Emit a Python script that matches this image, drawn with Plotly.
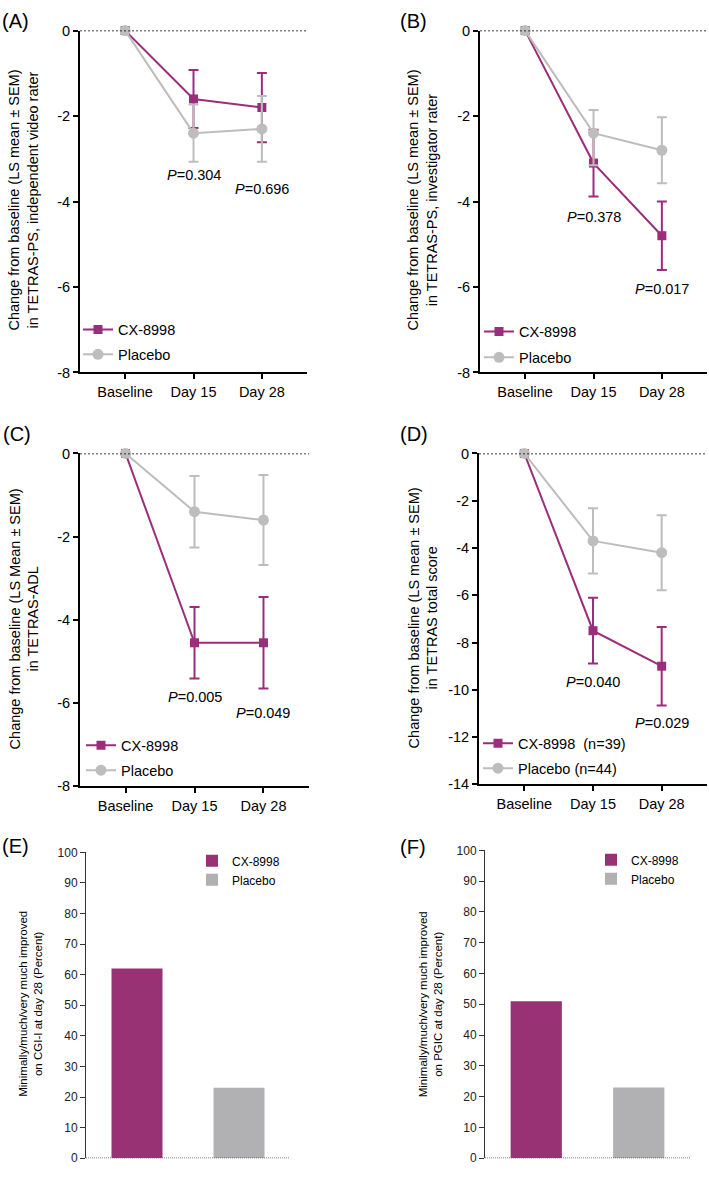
import plotly.graph_objects as go

W, H = 709, 1201

# ---------------- data ----------------
visits = ["Baseline", "Day 15", "Day 28"]

# (A) TETRAS-PS, independent video rater
A_cx = [0, -1.6, -1.8]
A_cx_err = [None, 0.68, 0.81]
A_pl = [0, -2.4, -2.3]
A_pl_err = [None, 0.67, 0.77]
A_p = ["0.304", "0.696"]
A_p_y = [-3.39, -3.70]

# (B) TETRAS-PS, investigator rater
B_cx = [0, -3.1, -4.8]
B_cx_err = [None, 0.78, 0.80]
B_pl = [0, -2.4, -2.8]
B_pl_err_plus = [None, 0.54, 0.77]
B_pl_err_minus = [None, 0.75, 0.77]
B_p = ["0.378", "0.017"]
B_p_y = [-4.36, -6.04]

# (C) TETRAS-ADL
C_cx = [0, -4.55, -4.55]
C_cx_err = [None, 0.86, 1.10]
C_pl = [0, -1.4, -1.6]
C_pl_err = [None, 0.86, 1.08]
C_p = ["0.005", "0.049"]
C_p_y = [-5.86, -6.23]

# (D) TETRAS total score
D_cx = [0, -7.5, -9.0]
D_cx_err = [None, 1.39, 1.66]
D_pl = [0, -3.7, -4.2]
D_pl_err = [None, 1.38, 1.59]
D_p = ["0.040", "0.029"]
D_p_y = [-9.68, -11.39]

# (E)/(F) responders (%)
groups = ["CX-8998", "Placebo"]
E_vals = [62, 23]
F_vals = [51, 23]

line_yticks_8 = [-8, -6, -4, -2, 0]
line_yticks_14 = [-14, -12, -10, -8, -6, -4, -2, 0]
bar_yticks = [0, 10, 20, 30, 40, 50, 60, 70, 80, 90, 100]

# ---------------- style ----------------
PURPLE = "#9B2D7D"
GRAY = "#BDBDBD"
BAR_PURPLE = "#993275"
BAR_GRAY = "#B1B1B4"
FONT = "Liberation Sans, Arial, Helvetica, sans-serif"
FS = 14.5

# page capture compensation (vertical)
OFF, K = 7.4, 0.987


def px_x(p):
    return p / W


def px_y(p):
    return 1 - ((p - OFF) / K) / H


fig = go.Figure()

panels = [
    dict(ax="", cx=A_cx, cxp=A_cx_err, cxm=A_cx_err, pl=A_pl, plp=A_pl_err, plm=A_pl_err,
         leg="legend", names=("CX-8998", "Placebo"), p=A_p, py=A_p_y),
    dict(ax="2", cx=B_cx, cxp=B_cx_err, cxm=B_cx_err, pl=B_pl, plp=B_pl_err_plus, plm=B_pl_err_minus,
         leg="legend2", names=("CX-8998", "Placebo"), p=B_p, py=B_p_y),
    dict(ax="3", cx=C_cx, cxp=C_cx_err, cxm=C_cx_err, pl=C_pl, plp=C_pl_err, plm=C_pl_err,
         leg="legend3", names=("CX-8998", "Placebo"), p=C_p, py=C_p_y),
    dict(ax="4", cx=D_cx, cxp=D_cx_err, cxm=D_cx_err, pl=D_pl, plp=D_pl_err, plm=D_pl_err,
         leg="legend4", names=("CX-8998&nbsp; (n=39)", "Placebo (n=44)"), p=D_p, py=D_p_y),
]

for pn in panels:
    xa = "x" + pn["ax"]
    ya = "y" + pn["ax"]
    fig.add_trace(go.Scatter(
        x=visits, y=pn["cx"], mode="lines+markers", name=pn["names"][0],
        xaxis=xa, yaxis=ya, legend=pn["leg"], legendgroup="cx" + pn["ax"], cliponaxis=False,
        line=dict(color=PURPLE, width=2),
        marker=dict(symbol="square", size=9, color=PURPLE),
        error_y=dict(type="data", array=pn["cxp"], arrayminus=pn["cxm"], symmetric=False,
                     color=PURPLE, thickness=2, width=5),
    ))
    fig.add_trace(go.Scatter(
        x=visits, y=pn["pl"], mode="lines+markers", name=pn["names"][1],
        xaxis=xa, yaxis=ya, legend=pn["leg"], legendgroup="pl" + pn["ax"], cliponaxis=False,
        line=dict(color=GRAY, width=2),
        marker=dict(symbol="circle", size=11, color=GRAY),
        error_y=dict(type="data", array=pn["plp"], arrayminus=pn["plm"], symmetric=False,
                     color=GRAY, thickness=2, width=5),
    ))
    for i, (pv, yv) in enumerate(zip(pn["p"], pn["py"])):
        fig.add_annotation(x=visits[i + 1], y=yv, xref=xa, yref=ya, showarrow=False,
                           text="<i>P</i>=" + pv, font=dict(size=FS, color="black", family=FONT))
    fig.add_shape(type="line", xref=xa + " domain", yref=ya, x0=0, x1=1, y0=0, y1=0,
                  line=dict(color="black", width=1.5, dash="2px,2px"), layer="above")

for ax, vals, leg in [("5", E_vals, "legend5"), ("6", F_vals, "legend6")]:
    for g, v, c in zip(groups, vals, [BAR_PURPLE, BAR_GRAY]):
        fig.add_trace(go.Bar(x=[g], y=[v], name=g, marker=dict(color=c, line=dict(width=0)),
                             xaxis="x" + ax, yaxis="y" + ax, legend=leg, legendgroup=g + ax))
    fig.add_shape(type="line", xref="x" + ax + " domain", yref="y" + ax, x0=0, x1=1, y0=0, y1=0,
                  line=dict(color="#555555", width=1.5, dash="1px,1px"), layer="above")

# ---------------- axes ----------------
line_dom = {
    "": ((80, 307), (30, 372), line_yticks_8, [-8, 0]),
    "2": ((480, 707), (30, 372), line_yticks_8, [-8, 0]),
    "3": ((80, 309), (453, 786), line_yticks_8, [-8, 0]),
    "4": ((479, 707), (453, 784), line_yticks_14, [-14, 0]),
}
layout_axes = {}
for ax, ((x0, x1), (y0, y1), ticks, rng) in line_dom.items():
    layout_axes["xaxis" + ax] = dict(
        domain=[px_x(x0), px_x(x1)], anchor="y" + ax, type="category",
        categoryorder="array", categoryarray=visits, range=[-0.66, 2.66],
        showline=True, linecolor="black", linewidth=2, ticks="outside", ticklen=5,
        tickwidth=2, tickcolor="black", showgrid=False, zeroline=False,
        tickfont=dict(size=FS, color="black", family=FONT),
    )
    layout_axes["yaxis" + ax] = dict(
        domain=[px_y(y1), px_y(y0)], anchor="x" + ax, range=rng,
        tickvals=ticks, ticktext=[str(t) for t in ticks],
        showline=True, linecolor="black", linewidth=2, ticks="outside", ticklen=5,
        tickwidth=2, tickcolor="black", showgrid=False, zeroline=False,
        tickfont=dict(size=FS, color="black", family=FONT),
    )

bar_dom = {
    "5": ((86, 290), (852, 1158)),
    "6": ((485, 690), (850, 1158)),
}
for ax, ((x0, x1), (y0, y1)) in bar_dom.items():
    layout_axes["xaxis" + ax] = dict(
        domain=[px_x(x0), px_x(x1)], anchor="y" + ax, type="category",
        categoryorder="array", categoryarray=groups, range=[-0.5, 1.5],
        showline=False, ticks="", showticklabels=False, showgrid=False, zeroline=False,
    )
    layout_axes["yaxis" + ax] = dict(
        domain=[px_y(y1), px_y(y0)], anchor="x" + ax, range=[0, 100],
        tickvals=bar_yticks, showline=True, linecolor="#333333", linewidth=1,
        ticks="outside", ticklen=5, tickwidth=1, tickcolor="#333333",
        showgrid=False, zeroline=False,
        tickfont=dict(size=12, color="#222222", family=FONT),
    )


def leg(xp, yp, size, gap):
    return dict(x=px_x(xp), y=px_y(yp), xanchor="left", yanchor="top",
                bgcolor="rgba(0,0,0,0)", borderwidth=0, itemwidth=30,
                font=dict(size=size, color="black", family=FONT), tracegroupgap=gap)


legends = dict(
    legend=leg(78, 313, FS, 3),
    legend2=leg(479, 315, FS, 4),
    legend3=leg(81, 729, FS, 3),
    legend4=leg(478, 727, FS, 3),
    legend5=leg(192, 846, 12, 0),
    legend6=leg(591, 845, 12, 0),
)

ytitles = [
    (24, 200, "Change from baseline (LS mean ± SEM)<br>in TETRAS-PS, independent video rater", FS),
    (423, 200, "Change from baseline (LS mean ± SEM)<br>in TETRAS-PS, investigator rater", FS),
    (24, 619, "Change from baseline (LS Mean ± SEM)<br>in TETRAS-ADL", FS),
    (423, 618, "Change from baseline (LS mean ± SEM)<br>in TETRAS total score", FS),
    (30.5, 1004, "Minimally/much/very much improved<br>on CGI-I at day 28 (Percent)", 11.5),
    (430, 1004, "Minimally/much/very much improved<br>on PGIC at day 28 (Percent)", 11.5),
]
for xp, yp, t, s in ytitles:
    fig.add_annotation(x=px_x(xp), y=px_y(yp), xref="paper", yref="paper", text=t,
                       textangle=-90, showarrow=False, xanchor="center", yanchor="middle",
                       font=dict(size=s, color="black", family=FONT))

panel_labels = [(0, 7.4, "(A)"), (398, 7.4, "(B)"), (1, 421, "(C)"), (398, 421, "(D)"),
                (0, 833, "(E)"), (398, 834, "(F)")]
for xp, yp, t in panel_labels:
    fig.add_annotation(x=px_x(xp), y=px_y(yp), xref="paper", yref="paper", text=t,
                       showarrow=False, xanchor="left", yanchor="top",
                       font=dict(size=20, color="black", family=FONT))

fig.update_layout(
    width=W, height=H, margin=dict(l=0, r=0, t=0, b=0),
    paper_bgcolor="white", plot_bgcolor="white",
    barmode="overlay", bargap=0.5,
    font=dict(family=FONT, color="black"),
    **layout_axes, **legends,
)

fig.write_html(
    "out.html",
    config={"displayModeBar": False},
    post_script="document.body.style.margin='0';document.body.style.padding='0';"
                "document.body.style.overflow='hidden';",
)
